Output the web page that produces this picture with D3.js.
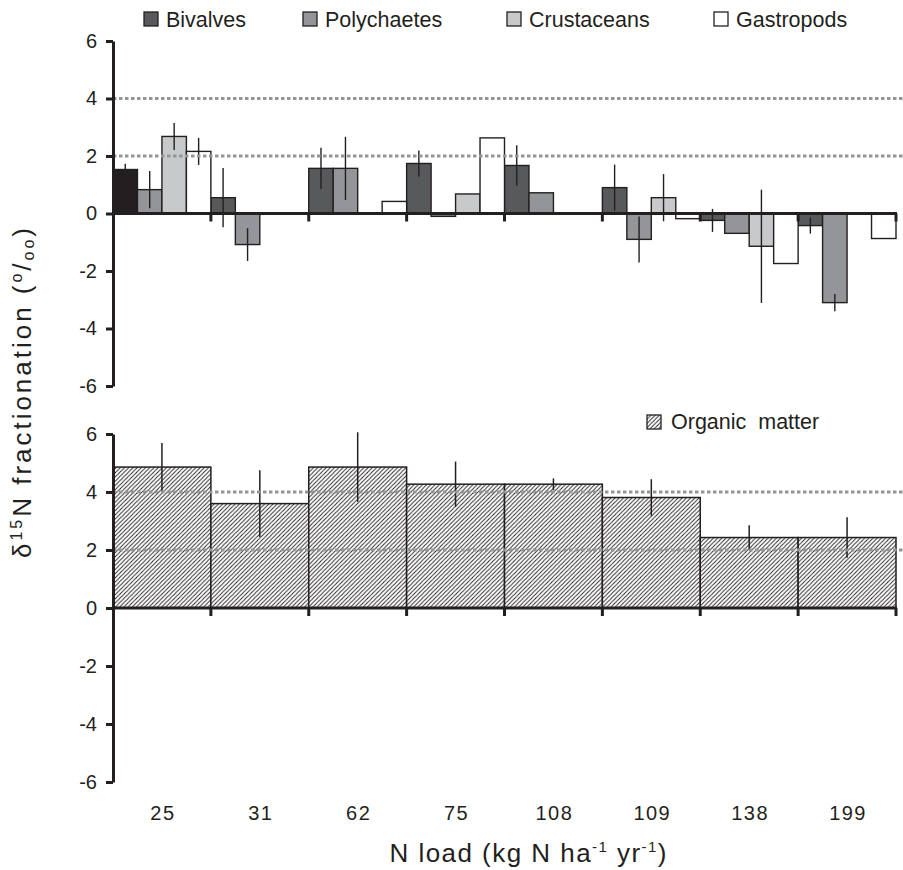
<!DOCTYPE html>
<html>
<head>
<meta charset="utf-8">
<script src="https://cdnjs.cloudflare.com/ajax/libs/d3/7.8.5/d3.min.js"></script>
<style>
  body { margin: 0; background: #fff; }
  svg { display: block; font-family: "Liberation Sans", Arial, Helvetica, sans-serif; }
</style>
</head>
<body>
<svg id="chart" width="903" height="870"></svg>
<script>
// N load categories (kg N ha-1 yr-1)
var loads = ['25', '31', '62', '75', '108', '109', '138', '199'];
var series = ['Bivalves', 'Polychaetes', 'Crustaceans', 'Gastropods'];
var yTicks = [-6, -4, -2, 0, 2, 4, 6];

// consumer d15N fractionation, null = no sample
var bivalves       = [1.53, 0.55, 1.57, 1.74, 1.67, 0.90, -0.24, -0.42];
var bivalvesErr    = [0.20, 1.03, 0.72, 0.45, 0.70, 0.80, 0.40, 0.28];
var polychaetes    = [0.83, -1.08, 1.57, -0.10, 0.72, -0.90, -0.69, -3.10];
var polychaetesErr = [0.65, 0.57, 1.10, null, null, 0.80, null, 0.30];
var crustaceans    = [2.68, null, null, 0.68, null, 0.55, -1.14, null];
var crustaceansErr = [0.47, null, null, null, null, 0.82, 1.97, null];
var gastropods     = [2.16, null, 0.42, 2.63, null, -0.18, -1.74, -0.87];
var gastropodsErr  = [0.47, null, null, null, null, null, null, null];

// organic matter
var organic    = [4.86, 3.60, 4.86, 4.27, 4.27, 3.81, 2.43, 2.43];
var organicErr = [0.83, 1.15, 1.20, 0.78, 0.20, 0.63, 0.42, 0.70];

var seriesValues = { Bivalves: bivalves, Polychaetes: polychaetes, Crustaceans: crustaceans, Gastropods: gastropods };
var seriesErrors = { Bivalves: bivalvesErr, Polychaetes: polychaetesErr, Crustaceans: crustaceansErr, Gastropods: gastropodsErr };
var fills = { Bivalves: '#58595b', Polychaetes: '#939598', Crustaceans: '#c8c9cb', Gastropods: '#ffffff' };
var ink = '#231f20';

var svg = d3.select('#chart');

// hatch for organic matter
svg.append('defs').append('pattern')
    .attr('id', 'hatch')
    .attr('patternUnits', 'userSpaceOnUse')
    .attr('width', 4.2)
    .attr('height', 4.2)
  .call(function(p) {
    p.append('rect').attr('width', 4.2).attr('height', 4.2).attr('fill', '#fff');
    p.append('path')
        .attr('d', 'M0,4.2L4.2,0M-1,1L1,-1M3.2,5.2L5.2,3.2')
        .attr('stroke', ink)
        .attr('stroke-width', 0.9);
  });

var x = d3.scaleBand().domain(loads).range([113, 896]).padding(0);
var xs = d3.scaleBand().domain(series).range([0, x.bandwidth()]).padding(0);
var yTop = d3.scaleLinear().domain([-6, 6]).range([386, 41]);
var yBot = d3.scaleLinear().domain([-6, 6]).range([782, 434]);

var rows = [];
series.forEach(function(s) {
  loads.forEach(function(l, i) {
    if (seriesValues[s][i] !== null) {
      rows.push({ series: s, load: l, v: seriesValues[s][i], e: seriesErrors[s][i] });
    }
  });
});
var omRows = loads.map(function(l, i) { return { load: l, v: organic[i], e: organicErr[i] }; });

function grid(y) {
  svg.append('g').selectAll('line')
    .data([2, 4])
    .join('line')
      .attr('x1', 113).attr('x2', 903)
      .attr('y1', function(d) { return y(d); })
      .attr('y2', function(d) { return y(d); })
      .attr('stroke', '#939598')
      .attr('stroke-width', 3)
      .attr('stroke-dasharray', '3.5,2.5');
}

function axes(y) {
  var ax = svg.append('g')
      .attr('transform', 'translate(113,0)')
      .call(d3.axisLeft(y).tickValues(yTicks).tickSize(7).tickSizeOuter(0).tickPadding(9)
              .tickFormat(function(d) { return String(d); }));
  ax.select('.domain').attr('stroke', ink).attr('stroke-width', 3);
  ax.selectAll('.tick line').attr('stroke', ink).attr('stroke-width', 3);
  ax.selectAll('.tick text')
      .attr('fill', ink)
      .style('font-size', '20px')
      .style('font-family', '"Liberation Sans", Arial, sans-serif');

  // zero line with group separators
  svg.append('line')
      .attr('x1', 113).attr('x2', 897)
      .attr('y1', y(0)).attr('y2', y(0))
      .attr('stroke', ink).attr('stroke-width', 3);
  svg.append('g').selectAll('line')
    .data(loads)
    .join('line')
      .attr('x1', function(d) { return x(d) + x.bandwidth(); })
      .attr('x2', function(d) { return x(d) + x.bandwidth(); })
      .attr('y1', y(0)).attr('y2', y(0) + 8)
      .attr('stroke', ink).attr('stroke-width', 3);
}

// ---- top panel: consumers
svg.append('g').selectAll('rect')
  .data(rows)
  .join('rect')
    .attr('x', function(d) { return x(d.load) + xs(d.series); })
    .attr('width', xs.bandwidth())
    .attr('y', function(d) { return yTop(Math.max(0, d.v)); })
    .attr('height', function(d) { return Math.abs(yTop(d.v) - yTop(0)); })
    .attr('fill', function(d) { return (d.series === 'Bivalves' && d.load === '25') ? ink : fills[d.series]; })
    .attr('stroke', ink)
    .attr('stroke-width', 1.4);

svg.append('g').selectAll('line')
  .data(rows.filter(function(d) { return d.e !== null; }))
  .join('line')
    .attr('x1', function(d) { return x(d.load) + xs(d.series) + xs.bandwidth() / 2; })
    .attr('x2', function(d) { return x(d.load) + xs(d.series) + xs.bandwidth() / 2; })
    .attr('y1', function(d) { return yTop(d.v + d.e); })
    .attr('y2', function(d) { return yTop(d.v - d.e); })
    .attr('stroke', ink)
    .attr('stroke-width', 1.4);

grid(yTop);
axes(yTop);

// ---- bottom panel: organic matter
svg.append('g').selectAll('rect')
  .data(omRows)
  .join('rect')
    .attr('x', function(d) { return x(d.load); })
    .attr('width', x.bandwidth())
    .attr('y', function(d) { return yBot(d.v); })
    .attr('height', function(d) { return yBot(0) - yBot(d.v); })
    .attr('fill', 'url(#hatch)')
    .attr('stroke', ink)
    .attr('stroke-width', 1.5);

svg.append('g').selectAll('line')
  .data(omRows)
  .join('line')
    .attr('x1', function(d) { return x(d.load) + x.bandwidth() / 2; })
    .attr('x2', function(d) { return x(d.load) + x.bandwidth() / 2; })
    .attr('y1', function(d) { return yBot(d.v + d.e); })
    .attr('y2', function(d) { return yBot(d.v - d.e); })
    .attr('stroke', ink)
    .attr('stroke-width', 1.5);

grid(yBot);
axes(yBot);

// x category labels
svg.append('g').selectAll('text')
  .data(loads)
  .join('text')
    .attr('x', function(d) { return x(d) + x.bandwidth() / 2 + 1; })
    .attr('y', 820)
    .attr('text-anchor', 'middle')
    .attr('fill', ink)
    .style('font-size', '20px')
    .style('letter-spacing', '1.5px')
    .text(function(d) { return d; });

// x title
var xt = svg.append('text')
    .attr('x', 528)
    .attr('y', 862)
    .attr('text-anchor', 'middle')
    .attr('textLength', 277)
    .attr('lengthAdjust', 'spacing')
    .attr('fill', ink)
    .style('font-size', '26px');
xt.append('tspan').text('N load (kg N ha');
xt.append('tspan').attr('dy', -10).style('font-size', '15px').text('-1');
xt.append('tspan').attr('dy', 10).text(' yr');
xt.append('tspan').attr('dy', -10).style('font-size', '15px').text('-1');
xt.append('tspan').attr('dy', 10).text(')');

// y title
var yt = svg.append('text')
    .attr('transform', 'translate(31,393) rotate(-90)')
    .attr('text-anchor', 'middle')
    .attr('textLength', 330)
    .attr('lengthAdjust', 'spacing')
    .attr('fill', ink)
    .style('font-size', '26px');
yt.append('tspan').text('\u03b4');
yt.append('tspan').attr('dy', -9).style('font-size', '16px').text('15');
yt.append('tspan').attr('dy', 9).text('N fractionation (');
yt.append('tspan').attr('dy', -9).style('font-size', '16px').text('o');
yt.append('tspan').attr('dy', 9).text('/');
yt.append('tspan').attr('dy', 3).style('font-size', '16px').text('oo');
yt.append('tspan').attr('dy', -3).text(')');

// legend: consumers
var legendX = [144, 303, 507, 714];
var lg = svg.append('g').selectAll('g')
  .data(series)
  .join('g')
    .attr('transform', function(d, i) { return 'translate(' + legendX[i] + ',12)'; });
lg.append('rect')
    .attr('width', 14).attr('height', 14)
    .attr('fill', function(d) { return fills[d]; })
    .attr('stroke', ink).attr('stroke-width', 1.3);
lg.append('text')
    .attr('x', 22).attr('y', 15)
    .attr('fill', ink)
    .style('font-size', '21.5px')
    .text(function(d) { return d; });

// legend: organic matter
var lo = svg.append('g').attr('transform', 'translate(647,415)');
lo.append('rect')
    .attr('width', 14).attr('height', 14)
    .attr('fill', 'url(#hatch)')
    .attr('stroke', ink).attr('stroke-width', 1.3);
lo.append('text')
    .attr('x', 24).attr('y', 14)
    .attr('fill', ink)
    .style('font-size', '21.5px')
    .style('white-space', 'pre')
    .text('Organic  matter');
</script>
</body>
</html>
